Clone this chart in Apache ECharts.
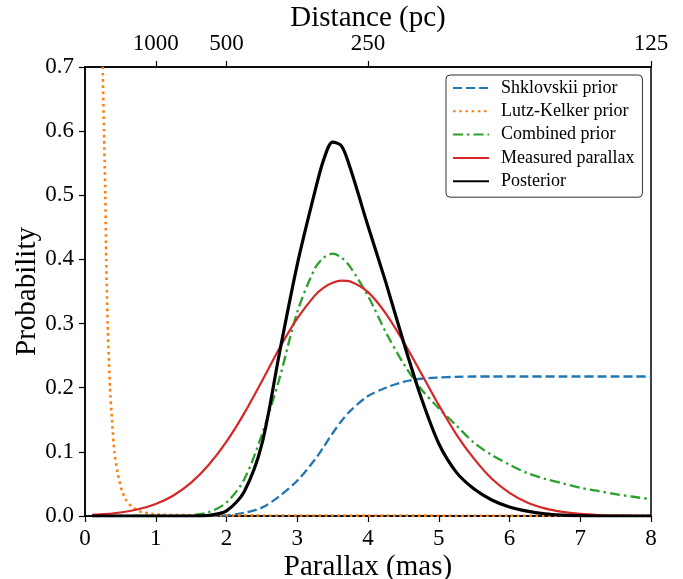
<!DOCTYPE html>
<html>
<head>
<meta charset="utf-8">
<script src="https://cdn.jsdelivr.net/npm/echarts@6/dist/echarts.min.js"></script>
<style>
html,body{margin:0;padding:0;background:#fff;}
#chart{width:683px;height:579px;}
</style>
</head>
<body>
<div id="chart"></div>
<script>
// Parallax grid (mas) shared by most curves
const parallax = [0.1, 0.25, 0.5, 0.75, 1.0, 1.25, 1.5, 1.75, 2.0, 2.25, 2.5, 2.75, 3.0, 3.25, 3.375, 3.5, 3.625, 3.75, 4.0, 4.25, 4.5, 4.75, 5.0, 5.25, 5.5, 5.75, 6.0, 6.25, 6.5, 6.75, 7.0, 7.25, 7.5, 7.75, 8.0];

const shklovskii = [0, 0, 0, 0, 0, 0, 0, 0, 0.001, 0.005, 0.013, 0.031, 0.055, 0.088, 0.108, 0.129, 0.148, 0.164, 0.187, 0.200, 0.209, 0.214, 0.216, 0.217, 0.2175, 0.2175, 0.2175, 0.2175, 0.2175, 0.2175, 0.2175, 0.2175, 0.2175, 0.2175, 0.2175];

const combined = [0, 0, 0, 0, 0, 0, 0.001, 0.006, 0.021, 0.057, 0.127, 0.215, 0.318, 0.386, 0.403, 0.409, 0.403, 0.388, 0.343, 0.287, 0.238, 0.198, 0.168, 0.141, 0.114, 0.095, 0.080, 0.067, 0.058, 0.051, 0.044, 0.039, 0.034, 0.030, 0.026];

const measured = [0.0018, 0.0028, 0.0055, 0.0105, 0.0188, 0.032, 0.052, 0.080, 0.116, 0.160, 0.210, 0.262, 0.308, 0.344, 0.356, 0.3635, 0.367, 0.3655, 0.349, 0.316, 0.272, 0.223, 0.173, 0.127, 0.089, 0.058, 0.036, 0.021, 0.0118, 0.0063, 0.0032, 0.0015, 0.0007, 0.0003, 0.0001];

const posterior = [0, 0, 0, 0, 0, 0, 0, 0.001, 0.008, 0.038, 0.112, 0.255, 0.392, 0.506, 0.556, 0.583, 0.577, 0.542, 0.452, 0.365, 0.272, 0.185, 0.113, 0.068, 0.042, 0.025, 0.014, 0.0075, 0.0035, 0.0015, 0.0005, 0, 0, 0, 0];

// Lutz-Kelker prior on its own parallax grid
const lkParallax = [0.22, 0.25, 0.269, 0.287, 0.30, 0.32, 0.353, 0.38, 0.415, 0.46, 0.52, 0.58, 0.66, 0.78, 0.9, 1.1, 1.5, 2.0, 3.0, 4.0, 5.0, 6.0, 7.0, 8.0];
const lutzKelker = [1.0, 0.70, 0.60, 0.50, 0.40, 0.30, 0.20, 0.152, 0.10, 0.068, 0.040, 0.025, 0.0145, 0.007, 0.004, 0.002, 0.0012, 0.001, 0.0008, 0.0006, 0.0005, 0.0004, 0.0003, 0.0002];

// Top axis: distance ticks placed at their parallax
const distanceTickParallax = [1, 2, 4, 8];
const distanceTickLabels = ['1000', '500', '250', '125'];

const seriesNames = ['Shklovskii prior', 'Lutz-Kelker prior', 'Combined prior', 'Measured parallax', 'Posterior'];

const pair = (xs, ys) => xs.map((x, i) => [x, ys[i]]);

const FONT = 'Liberation Serif';
const chart = echarts.init(document.getElementById('chart'), null, {renderer: 'canvas'});

const lineBase = {type: 'line', showSymbol: false, symbol: 'none', clip: true, animation: false};

chart.setOption({
  animation: false,
  backgroundColor: '#fff',
  textStyle: {fontFamily: FONT, color: '#000'},
  grid: {left: 85, right: 32, top: 67, bottom: 63, show: true, borderColor: '#000', borderWidth: 1.5,
    containLabel: false, outerBoundsMode: 'none'},
  legend: {
    orient: 'vertical',
    left: 446, top: 75,
    padding: [4, 8, 7, 6],
    itemWidth: 36, itemHeight: 10, itemGap: 5.3,
    backgroundColor: '#fff',
    borderColor: '#333', borderWidth: 1, borderRadius: 4,
    itemStyle: {opacity: 0},
    textStyle: {fontFamily: FONT, fontSize: 18, color: '#000', lineHeight: 18, padding: [0, 0, 0, 7]},
    data: seriesNames,
    selectedMode: false
  },
  xAxis: [{
    type: 'value', min: 0, max: 8, interval: 1, position: 'bottom',
    name: 'Parallax (mas)', nameLocation: 'middle', nameGap: 37, nameMoveOverlap: false,
    nameTextStyle: {fontFamily: FONT, fontSize: 29, color: '#000'},
    axisLine: {show: true, onZero: false, lineStyle: {color: '#000', width: 1.5}},
    axisTick: {show: true, inside: false, length: 6, lineStyle: {color: '#000', width: 1.2}},
    axisLabel: {fontFamily: FONT, fontSize: 23, color: '#000', margin: 11, showMinLabel: true, showMaxLabel: true},
    splitLine: {show: false}
  }, {
    type: 'value', min: 0, max: 8, position: 'top',
    name: 'Distance (pc)', nameLocation: 'middle', nameGap: 34, nameMoveOverlap: false,
    nameTextStyle: {fontFamily: FONT, fontSize: 29, color: '#000'},
    axisLine: {show: true, onZero: false, lineStyle: {color: '#000', width: 1.5}},
    axisTick: {show: true, inside: false, length: 6, customValues: distanceTickParallax, lineStyle: {color: '#000', width: 1.2}},
    axisLabel: {
      fontFamily: FONT, fontSize: 23, color: '#000', margin: 12,
      customValues: distanceTickParallax,
      formatter: v => { const i = distanceTickParallax.indexOf(v); return i >= 0 ? distanceTickLabels[i] : ''; }
    },
    splitLine: {show: false}
  }],
  yAxis: [{
    type: 'value', min: 0, max: 0.7, interval: 0.1,
    name: 'Probability', nameLocation: 'middle', nameGap: 43, nameRotate: 90, nameMoveOverlap: false,
    nameTextStyle: {fontFamily: FONT, fontSize: 29, color: '#000'},
    axisLine: {show: true, onZero: false, lineStyle: {color: '#000', width: 1.5}},
    axisTick: {show: true, inside: false, length: 6, lineStyle: {color: '#000', width: 1.2}},
    axisLabel: {fontFamily: FONT, fontSize: 23, color: '#000', margin: 11, formatter: v => v.toFixed(1)},
    splitLine: {show: false}
  }],
  series: [
    Object.assign({}, lineBase, {name: seriesNames[0], data: pair(parallax, shklovskii), smooth: 0.3,
      lineStyle: {color: '#1f77b4', width: 2.3, type: [9, 4]}, itemStyle: {color: '#1f77b4'}}),
    Object.assign({}, lineBase, {name: seriesNames[1], data: pair(lkParallax, lutzKelker), smooth: 0.2,
      lineStyle: {color: '#ff7f0e', width: 2.6, type: [2.6, 3.6]}, itemStyle: {color: '#ff7f0e'}}),
    Object.assign({}, lineBase, {name: seriesNames[2], data: pair(parallax, combined), smooth: 0.3,
      lineStyle: {color: '#2ca02c', width: 2.3, type: [10, 4, 2.5, 4]}, itemStyle: {color: '#2ca02c'}}),
    Object.assign({}, lineBase, {name: seriesNames[3], data: pair(parallax, measured), smooth: 0.3,
      lineStyle: {color: '#d62728', width: 2.2}, itemStyle: {color: '#d62728'}}),
    Object.assign({}, lineBase, {name: seriesNames[4], data: pair(parallax, posterior), smooth: 0.3,
      lineStyle: {color: '#000000', width: 3.2}, itemStyle: {color: '#000000'}})
  ]
});
</script>
</body>
</html>
